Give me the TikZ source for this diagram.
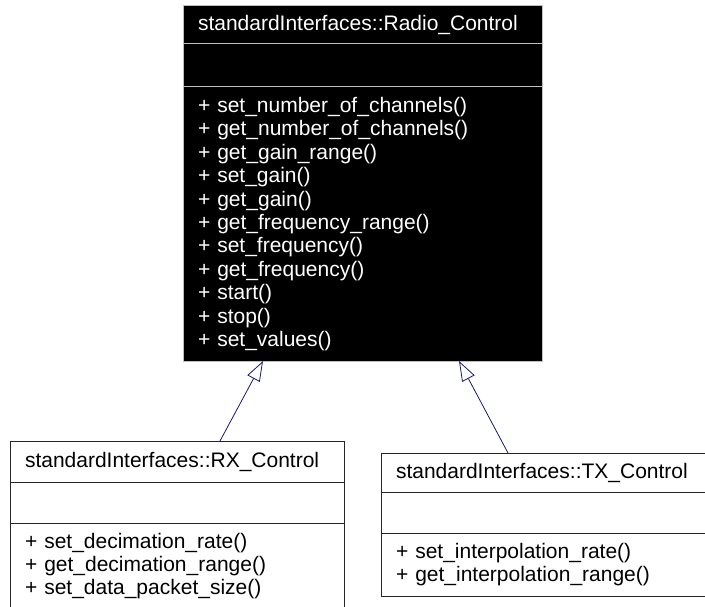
\documentclass[tikz,border=0pt]{standalone}
\usepackage{fontspec}
\setmainfont{Liberation Sans}
\usepackage{xcolor}
\usepackage{tikz}
\usetikzlibrary{arrows.meta,positioning}
\definecolor{navy}{HTML}{191970}
\definecolor{edgegray}{HTML}{BFBFBF}

\begin{document}
\begin{tikzpicture}[
  x=1pt, y=-1pt,
  part/.style={draw, rectangle, anchor=north west, outer sep=0pt, inner xsep=15pt, inner ysep=0pt,
    align=left, line width=1pt, font=\fontsize{21}{23.4}\selectfont},
  base/.style={part, fill=black, draw=edgegray, text=white, text width=329pt},
  rxpart/.style={part, fill=white, draw=black!85, text width=304pt},
  txpart/.style={part, fill=white, draw=black!85, text width=299pt},
  inherit/.style={draw=navy, line width=0.8pt, -{Triangle[open, length=20pt, width=14pt]}}
]
\clip (0,0) rectangle (705,607);
\fill[white] (0,0) rectangle (705,607);

% base class
\node[base, minimum height=38pt] (radiotitle) at (183,6) {standardInterfaces::Radio\_Control};
\node[base, minimum height=43pt] (radioattr) at (radiotitle.south west) {};
\node[base, minimum height=274pt] (radiometh) at (radioattr.south west) {%
  + set\_number\_of\_channels()\\
  + get\_number\_of\_channels()\\
  + get\_gain\_range()\\
  + set\_gain()\\
  + get\_gain()\\
  + get\_frequency\_range()\\
  + set\_frequency()\\
  + get\_frequency()\\
  + start()\\
  + stop()\\
  + set\_values()};

% derived classes
\node[rxpart, minimum height=41pt] (rxtitle) at (10,441) {standardInterfaces::RX\_Control};
\node[rxpart, minimum height=41pt] (rxattr) at (rxtitle.south west) {};
\node[rxpart, minimum height=86pt] (rxmeth) at (rxattr.south west) {%
  + set\_decimation\_rate()\\
  + get\_decimation\_range()\\
  + set\_data\_packet\_size()};

\node[txpart, minimum height=39pt] (txtitle) at (381,453) {standardInterfaces::TX\_Control};
\node[txpart, minimum height=41pt] (txattr) at (txtitle.south west) {};
\node[txpart, minimum height=63pt] (txmeth) at (txattr.south west) {%
  + set\_interpolation\_rate()\\
  + get\_interpolation\_range()};

\draw[inherit] ([xshift=210pt]rxtitle.north west) -- ([xshift=80pt]radiometh.south west);
\draw[inherit] ([xshift=127pt]txtitle.north west) -- ([xshift=276pt]radiometh.south west);
\end{tikzpicture}
\end{document}
